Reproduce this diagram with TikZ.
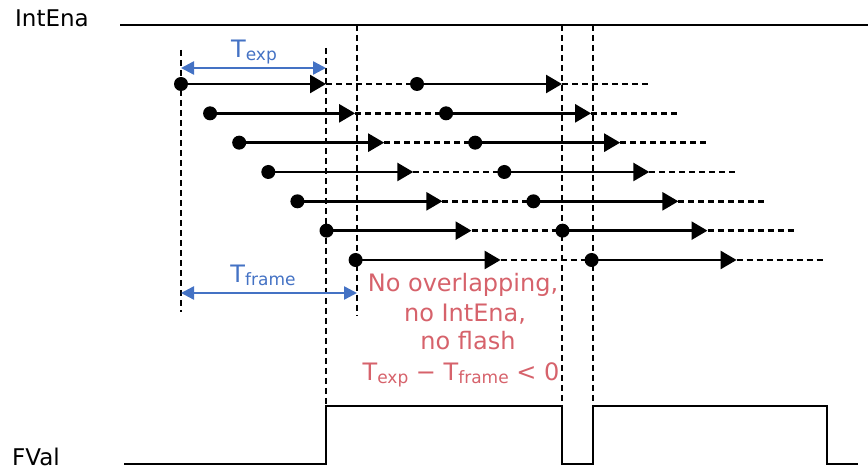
\documentclass[tikz,border=0pt]{standalone}
\usepackage{fontspec}
\setmainfont{DejaVu Sans}
\usetikzlibrary{arrows.meta}
\definecolor{tblue}{RGB}{68,114,196}
\definecolor{tred}{RGB}{214,98,107}
\newcommand\tsub[1]{\raisebox{-3pt}{\fontsize{17}{18}\selectfont #1}}
\begin{document}
\begin{tikzpicture}[x=1pt,y=-1pt,
  sig/.style={line width=2.6pt, line join=miter},
  vdash/.style={line width=2pt, dash pattern=on 6pt off 4pt},
  solarrow/.style={line width=2.6pt, -{Triangle[length=16pt,width=18pt]}},
  dashseg/.style={line width=2.4pt, dash pattern=on 6pt off 4pt},
  dotnode/.style={circle, fill=black, inner sep=0pt, minimum size=14pt},
  meas/.style={tblue, line width=2.4pt, {Triangle[length=13pt,width=13pt]}-{Triangle[length=13pt,width=13pt]}},
  lbl/.style={font=\fontsize{23}{27}\selectfont, anchor=base west, inner sep=0pt},
  tlbl/.style={tblue, font=\fontsize{24}{28}\selectfont, anchor=base, inner sep=0pt},
  note/.style={tred, font=\fontsize{24}{28}\selectfont, anchor=base, inner sep=0pt}
]
\useasboundingbox (0,0) rectangle (868,470);
% labels
\node[lbl] (intena) at (15,27) {IntEna};
\node[lbl] (fval) at (12,465) {FVal};
% IntEna line
\coordinate (i0) at (120,25);
\coordinate (i1) at (868,25);
\draw[sig] (i0) -- (i1);
% FVal waveform
\coordinate (f0) at (124,464);
\coordinate (f1) at (326,464);
\coordinate (f2) at (326,406);
\coordinate (f3) at (562,406);
\coordinate (f4) at (562,464);
\coordinate (f5) at (593,464);
\coordinate (f6) at (593,406);
\coordinate (f7) at (827,406);
\coordinate (f8) at (827,464);
\coordinate (f9) at (858,464);
\draw[sig] (f0) -- (f1) -- (f2) -- (f3) -- (f4) -- (f5) -- (f6) -- (f7) -- (f8) -- (f9);
% vertical dashed lines
\coordinate (v1t) at (181,50);  \coordinate (v1b) at (181,312);
\coordinate (v2t) at (326,48);
\coordinate (v3t) at (357,25);  \coordinate (v3b) at (357,316);
\coordinate (v4t) at (562,25);
\coordinate (v5t) at (593,25);
\draw[vdash] (v1t) -- (v1b);
\draw[vdash] (v2t) -- (f2);
\draw[vdash] (v3t) -- (v3b);
\draw[vdash] (v4t) -- (f3);
\draw[vdash] (v5t) -- (f6);
% exposure rows
\foreach \i in {0,...,6} {
  \pgfmathsetmacro{\s}{181+29.1*\i}
  \pgfmathsetmacro{\y}{84+29.33*\i}
  \node[dotnode] (a\i) at (\s,\y) {};
  \coordinate (b\i) at (\s+145,\y);
  \node[dotnode] (c\i) at (\s+236,\y) {};
  \coordinate (d\i) at (\s+381,\y);
  \coordinate (e\i) at (\s+468,\y);
  \draw[solarrow] (a\i.center) -- (b\i);
  \draw[dashseg] (b\i) -- (c\i.center);
  \draw[solarrow] (c\i.center) -- (d\i);
  \draw[dashseg] (d\i) -- (e\i);
}
% measurements
\coordinate (m1a) at (181,68); \coordinate (m1b) at (326,68);
\draw[meas] (m1a) -- (m1b);
\node[tlbl] (texp) at (254,58) {T\tsub{exp}};
\coordinate (m2a) at (181,293); \coordinate (m2b) at (357,293);
\draw[meas] (m2a) -- (m2b);
\node[tlbl] (tframe) at (263,283) {T\tsub{frame}};
% note
\node[note] (n1) at (463,292) {No overlapping,};
\node[note] (n2) at (465,322) {no IntEna,};
\node[note] (n3) at (468,350) {no flash};
\node[note] (n4) at (461,381) {T\tsub{exp} − T\tsub{frame} < 0};
\end{tikzpicture}
\end{document}
